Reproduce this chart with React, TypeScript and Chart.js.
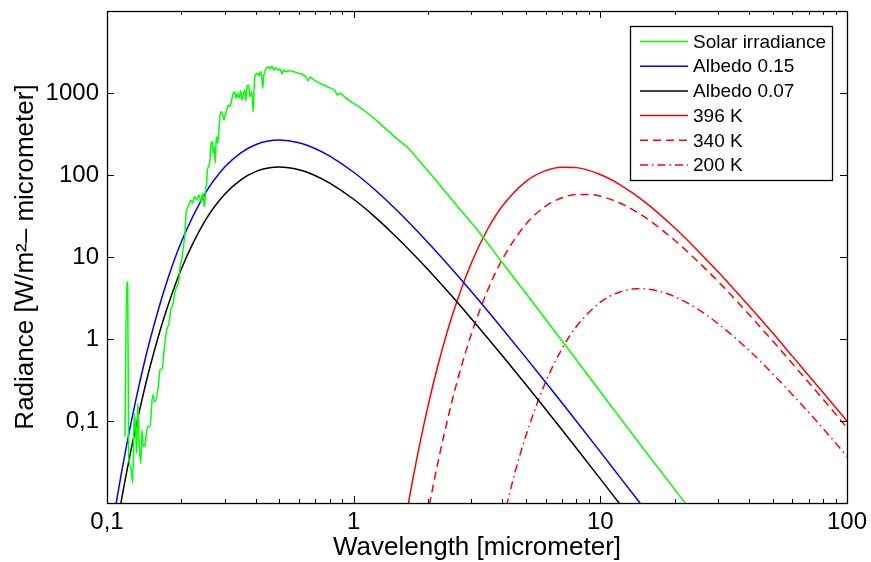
import React, { useEffect, useRef } from 'react';
import { Chart, registerables } from 'chart.js';

Chart.register(...registerables);

const FONT = '"Liberation Sans", Arial, Helvetica, sans-serif';

// Wavelengths (micrometer) for the reflected-sunlight curves
const albedoWavelengths = [0.1, 0.11, 0.12, 0.13, 0.14, 0.15, 0.17, 0.2, 0.25, 0.3, 0.35, 0.4, 0.45, 0.5, 0.6, 0.7, 0.8, 1, 1.2, 1.5, 2, 2.5, 3, 4, 5, 6, 7, 8, 10, 12, 15];
const albedo015 = [0.002, 0.0118, 0.05, 0.164, 0.443, 1.02, 3.83, 15.2, 59.4, 124.8, 188, 234, 259.6, 267, 247.5, 209, 170, 108, 68.9, 36.9, 15.05, 7.14, 3.79, 1.344, 0.589, 0.297, 0.1655, 0.0993, 0.042, 0.0207, 0.0087];
const albedo007 = [0.00094, 0.0055, 0.0234, 0.077, 0.207, 0.479, 1.79, 7.1, 27.8, 58.4, 88, 110, 121.5, 125, 115.8, 98, 79.6, 50.6, 32.2, 17.2, 7.05, 3.34, 1.77, 0.629, 0.276, 0.139, 0.0775, 0.0465, 0.0197, 0.0097, 0.0041];

// Solar irradiance spectrum
const solarWavelengths = [0.1183, 0.1202, 0.1213, 0.1224, 0.1248, 0.1271, 0.129, 0.1307, 0.1319, 0.1332, 0.1352, 0.137, 0.1386, 0.1404, 0.143, 0.1457, 0.1494, 0.1532, 0.1565, 0.1614, 0.164, 0.1675, 0.1702, 0.1746, 0.1784, 0.1813, 0.1847, 0.1887, 0.1917, 0.1958, 0.1977, 0.2009, 0.2039, 0.2072, 0.2091, 0.2117, 0.215, 0.2184, 0.2226, 0.2259, 0.231, 0.236, 0.2405, 0.2443, 0.248, 0.2519, 0.2536, 0.255, 0.2584, 0.2616, 0.264, 0.2673, 0.2698, 0.2723, 0.2748, 0.2774, 0.2811, 0.2837, 0.2872, 0.2907, 0.2945, 0.2981, 0.3017, 0.3057, 0.3103, 0.3152, 0.3203, 0.3251, 0.3294, 0.3325, 0.3375, 0.3428, 0.3483, 0.3526, 0.3569, 0.3615, 0.3649, 0.3694, 0.3753, 0.3798, 0.386, 0.3896, 0.3918, 0.3944, 0.3981, 0.403, 0.4083, 0.4133, 0.4183, 0.4238, 0.4277, 0.4318, 0.4382, 0.4453, 0.4524, 0.4592, 0.4666, 0.474, 0.4829, 0.492, 0.5027, 0.5123, 0.5185, 0.5318, 0.552, 0.573, 0.5965, 0.6155, 0.6349, 0.6548, 0.6653, 0.6968, 0.7418, 0.7893, 0.8402, 0.8585, 0.8745, 0.9371, 0.9966, 1.061, 1.129, 1.201, 1.279, 1.471, 1.692, 1.858, 2.17, 2.617, 3.25, 3.92, 5.19, 7.19, 9.08, 11.29, 14.48, 21.7, 25];
const solarIrradiance = [0.0644, 5.0, 4.78, 0.0367, 0.0277, 0.0174, 0.124, 0.0708, 0.0404, 0.164, 0.0486, 0.0305, 0.0777, 0.0486, 0.0535, 0.0852, 0.0852, 0.2075, 0.172, 0.262, 0.419, 0.439, 0.7, 1.288, 1.553, 2.26, 2.6, 3.78, 4.35, 5.24, 7.62, 9.19, 13.4, 19.4, 34.1, 39.3, 43.1, 49.6, 45.2, 54.4, 49.6, 57.0, 47.2, 59.8, 41.0, 72.0, 79.2, 115, 126, 152, 244, 255, 184, 221, 139, 293, 244, 323, 539, 592, 539, 469, 539, 621, 714, 681, 822, 991, 1038, 861, 991, 861, 1067, 822, 972, 1088, 805, 1194, 1253, 901, 1038, 749, 592, 1088, 1581, 1706, 1739, 1612, 1820, 1659, 1141, 1581, 1907, 2036, 2093, 1962, 2134, 1907, 2036, 1907, 1962, 1706, 1907, 1820, 1871, 1820, 1739, 1706, 1612, 1413, 1553, 1413, 1288, 1173, 1067, 945, 991, 852, 750, 669, 579, 499, 423, 290, 202, 145, 84, 42.5, 19.5, 9.3, 3.1, 0.85, 0.335, 0.14, 0.052, 0.0107, 0.0062];

// Thermal emission curves
const wl396 = [1.5, 1.7, 1.8, 2, 2.2, 2.5, 3, 3.5, 4, 5, 6, 7, 8, 10, 12, 15, 20, 25, 30, 40, 50, 60, 80, 100];
const emission396 = [0.00149, 0.0138, 0.0339, 0.151, 0.488, 1.87, 8.46, 22.1, 41.5, 83.7, 113, 124.6, 123, 101.6, 76.5, 48.0, 22.7, 11.7, 6.6, 2.54, 1.18, 0.618, 0.223, 0.1];
const wl340 = [1.9, 2, 2.2, 2.5, 2.7, 3, 3.5, 4, 5, 6, 7, 8, 9, 10, 12, 15, 20, 25, 30, 40, 50, 60, 80, 100];
const emission340 = [0.0032, 0.00756, 0.0322, 0.171, 0.407, 1.15, 3.99, 9.29, 25.3, 41.6, 52.8, 57.9, 58.0, 55.1, 45.5, 31.2, 16.0, 8.64, 5.05, 2.0, 0.944, 0.503, 0.184, 0.083];
const wl200 = [4, 4.5, 5, 6, 7, 8, 10, 12, 14, 16, 20, 25, 30, 40, 50, 60, 80, 100];
const emission200 = [0.00565, 0.0231, 0.0675, 0.2985, 0.766, 1.42, 2.81, 3.75, 4.11, 4.02, 3.29, 2.285, 1.54, 0.73, 0.376, 0.211, 0.081, 0.037];

const xTicks = [0.1, 1, 10, 100];
const yTicks = [0.1, 1, 10, 100, 1000];
const minorMultipliers = [2, 3, 4, 5, 6, 7, 8, 9];

const fmt = (v: number) => (v < 1 ? String(v).replace('.', ',') : String(v));
const pts = (xs: number[], ys: number[]) => xs.map((x, i) => ({ x, y: ys[i] }));

const framePlugin = {
  id: 'frameTicks',
  afterDraw(chart: any) {
    const { ctx, chartArea } = chart;
    const { left, right, top, bottom } = chartArea;
    const xs = chart.scales.x;
    const ys = chart.scales.y;
    ctx.save();
    ctx.strokeStyle = '#000';
    ctx.lineWidth = 1;
    ctx.beginPath();
    const major = 7;
    const minor = 4;
    const xTick = (v: number, len: number) => {
      const px = Math.round(xs.getPixelForValue(v)) + 0.5;
      ctx.moveTo(px, bottom);
      ctx.lineTo(px, bottom - len);
      ctx.moveTo(px, top);
      ctx.lineTo(px, top + len);
    };
    xTicks.forEach((v) => xTick(v, major));
    xTicks.slice(0, -1).forEach((d) => minorMultipliers.forEach((m) => xTick(d * m, minor)));
    yTicks.forEach((v) => {
      const py = Math.round(ys.getPixelForValue(v)) + 0.5;
      ctx.moveTo(left, py);
      ctx.lineTo(left + major, py);
      ctx.moveTo(right, py);
      ctx.lineTo(right - major, py);
    });
    ctx.stroke();
    ctx.lineWidth = 1.3;
    ctx.strokeRect(Math.round(left) + 0.5, Math.round(top) + 0.5, Math.round(right - left), Math.round(bottom - top));
    ctx.restore();
  },
};

const legendPlugin = {
  id: 'boxLegend',
  afterDraw(chart: any) {
    const ctx = chart.ctx;
    const x0 = 630.5;
    const y0 = 26.5;
    const w = 202;
    const h = 154;
    ctx.save();
    ctx.fillStyle = '#fff';
    ctx.fillRect(x0, y0, w, h);
    ctx.strokeStyle = '#000';
    ctx.lineWidth = 1.3;
    ctx.strokeRect(x0, y0, w, h);
    ctx.font = `19px ${FONT}`;
    ctx.textBaseline = 'middle';
    ctx.textAlign = 'left';
    chart.data.datasets.forEach((ds: any, i: number) => {
      const cy = 41.5 + i * 24.7;
      ctx.strokeStyle = ds.borderColor;
      ctx.lineWidth = ds.borderWidth;
      ctx.setLineDash(ds.borderDash || []);
      ctx.beginPath();
      ctx.moveTo(640, cy);
      ctx.lineTo(688, cy);
      ctx.stroke();
      ctx.setLineDash([]);
      ctx.fillStyle = '#000';
      ctx.fillText(ds.label, 693, cy + 1);
    });
    ctx.restore();
  },
};

export default function App() {
  const ref = useRef<HTMLCanvasElement>(null);
  useEffect(() => {
    const common = { pointRadius: 0, borderWidth: 1.5, fill: false, cubicInterpolationMode: 'monotone' as const };
    const chart = new Chart(ref.current as HTMLCanvasElement, {
      type: 'line',
      data: {
        datasets: [
          { label: 'Solar irradiance', data: pts(solarWavelengths, solarIrradiance), borderColor: '#00ff00', ...common },
          { label: 'Albedo 0.15', data: pts(albedoWavelengths, albedo015), borderColor: '#0000ff', ...common },
          { label: 'Albedo 0.07', data: pts(albedoWavelengths, albedo007), borderColor: '#000000', ...common },
          { label: '396 K', data: pts(wl396, emission396), borderColor: '#ff0000', ...common },
          { label: '340 K', data: pts(wl340, emission340), borderColor: '#ff0000', borderDash: [8, 5], ...common },
          { label: '200 K', data: pts(wl200, emission200), borderColor: '#ff0000', borderDash: [8, 4, 1.5, 4], ...common },
        ],
      },
      options: {
        animation: false,
        responsive: false,
        devicePixelRatio: 1,
        layout: { padding: { top: 11, right: 24, left: 0, bottom: 0 } },
        plugins: { legend: { display: false }, tooltip: { enabled: false } },
        scales: {
          x: {
            type: 'logarithmic',
            min: 0.1,
            max: 100,
            afterBuildTicks: (s: any) => { s.ticks = xTicks.map((v) => ({ value: v })); },
            afterFit: (s: any) => { s.height = 59; s.paddingLeft = 0; s.paddingRight = 0; },
            grid: { display: false, drawTicks: false },
            border: { display: false },
            ticks: {
              callback: (v: any) => fmt(Number(v)),
              font: { family: FONT, size: 24 },
              color: '#000',
              padding: 5,
              maxRotation: 0,
              autoSkip: false,
            },
            title: {
              display: true,
              text: 'Wavelength [micrometer]',
              font: { family: FONT, size: 26, lineHeight: 1.1 },
              color: '#000',
              padding: { top: 0, bottom: 0 },
            },
          },
          y: {
            type: 'logarithmic',
            min: 0.01,
            max: 10000,
            afterBuildTicks: (s: any) => { s.ticks = yTicks.map((v) => ({ value: v })); },
            afterFit: (s: any) => { s.width = 107; s.paddingTop = 0; s.paddingBottom = 0; },
            grid: { display: false, drawTicks: false },
            border: { display: false },
            ticks: {
              callback: (v: any) => fmt(Number(v)),
              font: { family: FONT, size: 24 },
              color: '#000',
              padding: 8,
              autoSkip: false,
            },
            title: {
              display: true,
              text: 'Radiance [W/m²– micrometer]',
              font: { family: FONT, size: 26 },
              color: '#000',
              padding: { top: 10, bottom: 0 },
            },
          },
        },
      },
      plugins: [framePlugin, legendPlugin],
    } as any);
    return () => chart.destroy();
  }, []);
  return (
    <div style={{ position: 'fixed', left: 0, top: 0, width: 871, height: 562 }}>
      <canvas ref={ref} width={871} height={562} style={{ display: 'block' }} />
    </div>
  );
}
